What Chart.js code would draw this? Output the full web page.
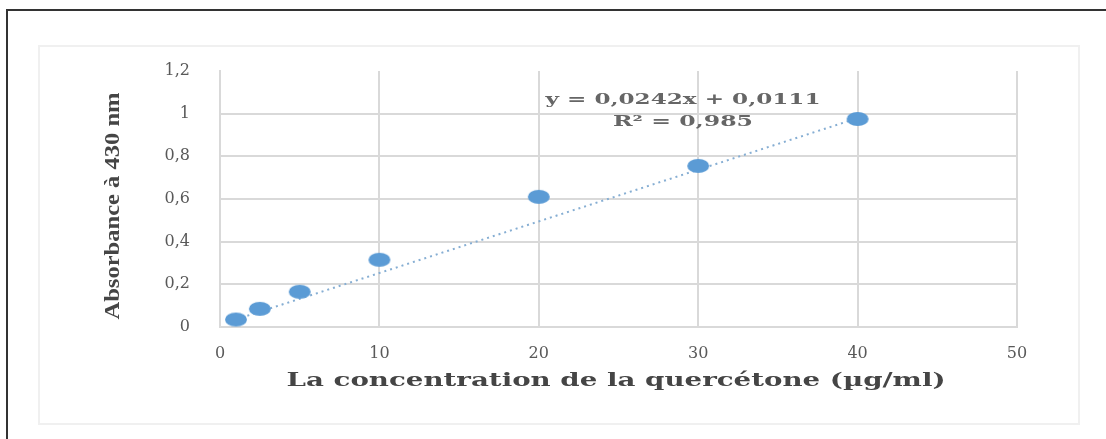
<!DOCTYPE html>
<html>
<head>
<meta charset="utf-8">
<script src="https://cdn.jsdelivr.net/npm/chart.js@4"></script>
<style>
  html, body { margin: 0; padding: 0; background: #fff; }
  #wrap { width: 1106px; height: 439px; }
</style>
</head>
<body>
<div id="wrap"><canvas id="myChart" width="1106" height="439"></canvas></div>
<script>
// data
const concentration = [1, 2.5, 5, 10, 20, 30, 40];
const absorbance = [0.035, 0.085, 0.165, 0.315, 0.61, 0.755, 0.975];
const trendX = [1, 40];
const trendY = [0.0353, 0.9791];
const xTickLabels = ['0', '10', '20', '30', '40', '50'];
const yTickLabels = ['0', '0,2', '0,4', '0,6', '0,8', '1', '1,2'];
const xTitle = 'La concentration de la quercétone (µg/ml)';
const yTitle = 'Absorbance à 430 nm';
const equation = 'y = 0,0242x + 0,0111';
const rSquared = 'R² = 0,985';

// ellipse marker like the excel one
const dot = document.createElement('canvas');
dot.width = 24; dot.height = 16;
const dctx = dot.getContext('2d');
dctx.fillStyle = '#5b9bd5';
dctx.beginPath();
dctx.ellipse(12, 8, 11, 7, 0, 0, Math.PI * 2);
dctx.fill();

function fitText(c, text, x, y, width, font, color, angle) {
  c.save();
  c.font = font;
  c.fillStyle = color;
  c.textAlign = 'center';
  c.textBaseline = 'middle';
  c.translate(x, y);
  if (angle) c.rotate(angle);
  const w = c.measureText(text).width;
  c.scale(width / w, 1);
  c.fillText(text, 0, 0);
  c.restore();
}

const extras = {
  id: 'extras',
  beforeDraw(chart) {
    const c = chart.ctx;
    c.save();
    c.fillStyle = '#fff';
    c.fillRect(0, 0, chart.width, chart.height);
    c.strokeStyle = '#f0f0f0';
    c.lineWidth = 2;
    c.strokeRect(39, 46, 1040, 378);
    c.strokeStyle = '#333';
    c.lineWidth = 2;
    c.beginPath();
    c.moveTo(7, 439);
    c.lineTo(7, 10);
    c.lineTo(1106, 10);
    c.stroke();
    c.restore();
  },
  afterDraw(chart) {
    const c = chart.ctx;
    fitText(c, xTitle, 616, 381, 659, 'bold 19px "DejaVu Serif"', '#454545');
    fitText(c, yTitle, 113, 206, 227, 'bold 22px "Liberation Serif"', '#454545', -Math.PI / 2);
    fitText(c, equation, 683, 100, 275, 'bold 14px "DejaVu Serif"', '#666');
    fitText(c, rSquared, 683, 122, 140, 'bold 14px "DejaVu Serif"', '#666');
  }
};

const ctx = document.getElementById('myChart');
var myChart = new Chart(ctx, {
  type: 'scatter',
  data: {
    datasets: [{
      label: 'points',
      data: concentration.map((x, i) => ({ x: x, y: absorbance[i] })),
      pointStyle: dot,
      pointRadius: 8,
      order: 1
    }, {
      label: 'trend',
      data: trendX.map((x, i) => ({ x: x, y: trendY[i] })),
      showLine: true,
      borderColor: '#86aed3',
      borderWidth: 2,
      borderDash: [2, 4],
      pointRadius: 0,
      order: 2
    }]
  },
  plugins: [extras],
  options: {
    responsive: false,
    animation: false,
    layout: { padding: { left: 0, right: 89, top: 71, bottom: 0 } },
    plugins: { legend: { display: false }, tooltip: { enabled: false } },
    scales: {
      x: {
        min: 0, max: 50,
        ticks: {
          stepSize: 10,
          padding: 17,
          color: '#595959',
          font: { family: 'DejaVu Serif', size: 16 },
          callback: (v, i) => xTickLabels[i]
        },
        grid: { color: '#d9d9d9', lineWidth: 2, drawTicks: false },
        border: { color: '#d9d9d9', width: 2 },
        afterFit: s => { s.height = 112; }
      },
      y: {
        min: 0, max: 1.2,
        ticks: {
          stepSize: 0.2,
          padding: 30,
          color: '#595959',
          font: { family: 'DejaVu Serif', size: 16 },
          callback: (v, i) => yTickLabels[i]
        },
        grid: {
          color: c => (c.tick && c.tick.value > 1.1) ? 'rgba(0,0,0,0)' : '#d9d9d9',
          lineWidth: 2, drawTicks: false
        },
        border: { color: '#d9d9d9', width: 2 },
        afterFit: s => { s.width = 220; }
      }
    }
  }
});
</script>
</body>
</html>
